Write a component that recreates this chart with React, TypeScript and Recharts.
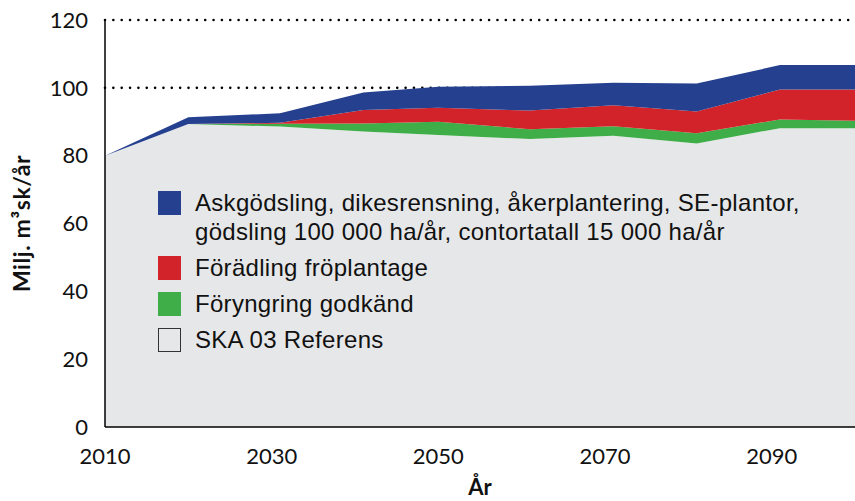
import React from 'react';
import { AreaChart, Area, XAxis, YAxis, CartesianGrid } from 'recharts';

// years (x) and stacked layers, Milj. m3sk/år
const years = [2010, 2020, 2031, 2041, 2050, 2061, 2071, 2081, 2091, 2100];
const referens = [80, 89.3, 88.6, 87.1, 86.1, 84.9, 85.9, 83.6, 88.1, 88.1];
const foryngring = [0, 0, 0.8, 2.4, 3.9, 2.9, 2.8, 3.0, 2.6, 2.2];
const foradling = [0, 0, 0.3, 4.0, 4.1, 5.5, 6.2, 6.4, 8.8, 9.2];
const askgodsling = [0, 2.0, 2.8, 5.1, 6.2, 7.3, 6.6, 8.3, 7.2, 7.2];

const xTicks = [2010, 2030, 2050, 2070, 2090];
const yTicks = [0, 20, 40, 60, 80, 100, 120];

const legendItems = [
  { color: '#25408f', label: ['Askgödsling, dikesrensning, åkerplantering, SE-plantor,', 'gödsling 100 000 ha/år, contortatall 15 000 ha/år'] },
  { color: '#d2232a', label: ['Förädling fröplantage'] },
  { color: '#3fae49', label: ['Föryngring godkänd'] },
  { color: '#e6e7e8', label: ['SKA 03 Referens'], border: true },
];

const data = years.map((year, i) => ({
  year,
  referens: referens[i],
  foryngring: foryngring[i],
  foradling: foradling[i],
  askgodsling: askgodsling[i],
}));

const tickFont = { fontFamily: 'Lato', fontSize: 22, fill: '#111' };

const ChartLegend = () => (
  <div
    style={{
      position: 'absolute',
      left: 158,
      top: 188,
      fontFamily: '"Liberation Sans", Arial, sans-serif',
      fontSize: 24,
      letterSpacing: 0.3,
      color: '#111',
      lineHeight: '29px',
    }}
  >
    {legendItems.map((item) => (
      <div key={item.label[0]} style={{ display: 'flex', alignItems: 'flex-start', marginBottom: 7 }}>
        <div
          style={{
            width: item.border ? 21 : 23,
            height: item.border ? 22 : 24,
            marginTop: 3,
            marginRight: 14,
            background: item.color,
            border: item.border ? '1px solid #333' : 'none',
            flexShrink: 0,
          }}
        />
        <div>
          {item.label.map((line) => (
            <div key={line} style={{ whiteSpace: 'nowrap' }}>{line}</div>
          ))}
        </div>
      </div>
    ))}
  </div>
);

export default function App() {
  return (
    <div style={{ position: 'absolute', left: 0, top: 0, width: 855, height: 501, background: '#fff', overflow: 'hidden' }}>
      <AreaChart width={855} height={501} data={data} margin={{ top: 20, right: 0, left: 0, bottom: 0 }}>
        <CartesianGrid
          vertical={false}
          horizontalValues={[100, 120]}
          stroke="#000"
          strokeWidth={2.6}
          strokeDasharray="0 8.35"
          strokeLinecap="round"
        />
        <XAxis
          dataKey="year"
          type="number"
          domain={[2010, 2100]}
          ticks={xTicks}
          tickLine={false}
          tickSize={0}
          tickMargin={21}
          axisLine={{ stroke: '#000', strokeWidth: 1.5 }}
          tick={tickFont}
          height={74}
          label={{ value: 'År', position: 'insideBottom', offset: 6, style: { fontFamily: 'Lato', fontWeight: 700, fontSize: 22, fill: '#111' } }}
        />
        <YAxis
          type="number"
          domain={[0, 120]}
          ticks={yTicks}
          tickLine={false}
          tickSize={0}
          tickMargin={17}
          axisLine={{ stroke: '#000', strokeWidth: 1.5 }}
          tick={tickFont}
          width={105}
          label={{ value: 'Milj. m³sk/år', angle: -90, position: 'insideLeft', offset: 22, style: { textAnchor: 'middle', fontFamily: 'Lato', fontWeight: 700, fontSize: 23, letterSpacing: 0.6, fill: '#111' } }}
        />
        <Area type="linear" dataKey="referens" stackId="1" stroke="none" fill="#e6e7e8" fillOpacity={1} isAnimationActive={false} />
        <Area type="linear" dataKey="foryngring" stackId="1" stroke="none" fill="#3fae49" fillOpacity={1} isAnimationActive={false} />
        <Area type="linear" dataKey="foradling" stackId="1" stroke="none" fill="#d2232a" fillOpacity={1} isAnimationActive={false} />
        <Area type="linear" dataKey="askgodsling" stackId="1" stroke="none" fill="#25408f" fillOpacity={1} isAnimationActive={false} />
      </AreaChart>
      <ChartLegend />
    </div>
  );
}
